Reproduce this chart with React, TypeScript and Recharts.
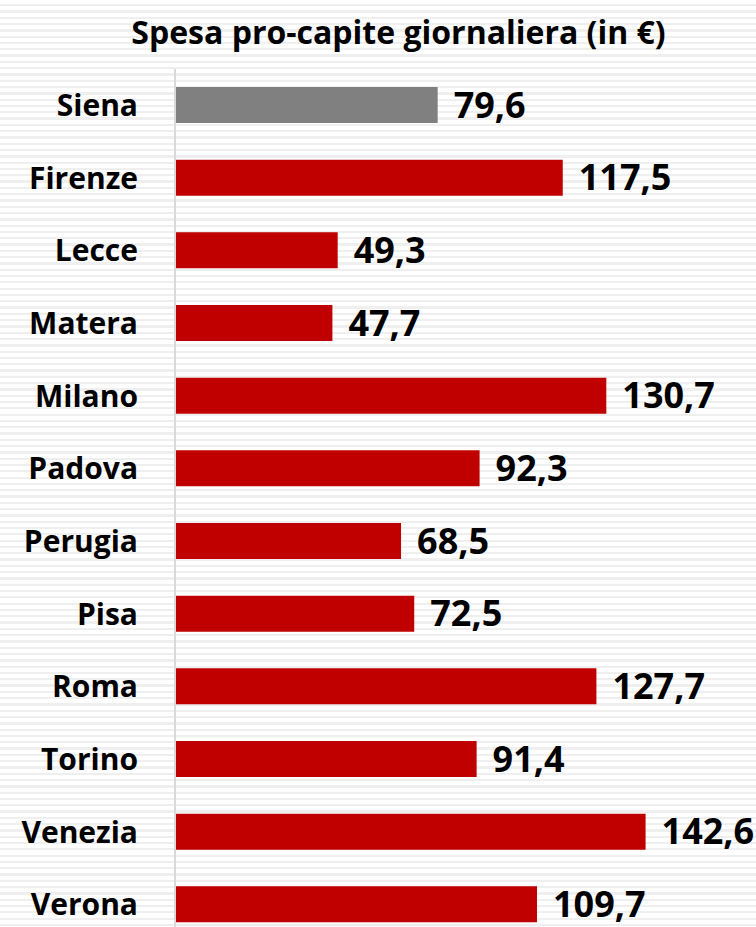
import React from 'react';
import { BarChart, Bar, XAxis, YAxis, Cell, LabelList } from 'recharts';

const cities = ['Siena', 'Firenze', 'Lecce', 'Matera', 'Milano', 'Padova', 'Perugia', 'Pisa', 'Roma', 'Torino', 'Venezia', 'Verona'];
const spesa = [79.6, 117.5, 49.3, 47.7, 130.7, 92.3, 68.5, 72.5, 127.7, 91.4, 142.6, 109.7];
const highlight = 'Siena';

const data = cities.map((city, i) => ({ city, value: spesa[i] }));

const FONT = '"Open Sans", Calibri, sans-serif';

const fmt = (v: any) => Number(v).toFixed(1).replace('.', ',');

export default function App() {
  return (
    <div
      style={{
        position: 'absolute',
        left: 0,
        top: 0,
        width: 756,
        height: 927,
        overflow: 'hidden',
        fontFamily: FONT,
        background: 'repeating-linear-gradient(to bottom, #ffffff 0px, #ffffff 4px, #efefef 4px, #efefef 6.3px)',
      }}
    >
      <div
        style={{
          position: 'absolute',
          left: 0,
          top: 12,
          width: 797,
          textAlign: 'center',
          fontSize: 32,
          fontWeight: 700,
          color: '#000',
          lineHeight: '40px',
        }}
      >
        Spesa pro-capite giornaliera (in €)
      </div>
      <BarChart
        layout="vertical"
        width={756}
        height={945}
        data={data}
        margin={{ top: 69, right: 53, bottom: 4, left: 0 }}
        style={{ position: 'absolute', left: 0, top: 0 }}
      >
        <XAxis type="number" domain={[0, 160]} hide />
        <YAxis
          type="category"
          dataKey="city"
          width={175}
          axisLine={{ stroke: '#d9d9d9', strokeWidth: 2 }}
          tickLine={false}
          tickSize={0}
          tickMargin={37}
          tick={{ fill: '#000', fontSize: 30, fontWeight: 700, fontFamily: FONT }}
          interval={0}
        />
        <Bar dataKey="value" barSize={36} isAnimationActive={false}>
          {data.map((d) => (
            <Cell key={d.city} fill={d.city === highlight ? '#808080' : '#c00000'} />
          ))}
          <LabelList
            dataKey="value"
            position="right"
            offset={16}
            formatter={fmt}
            style={{ fill: '#000', fontSize: 36, fontWeight: 700, fontFamily: FONT }}
          />
        </Bar>
      </BarChart>
    </div>
  );
}
